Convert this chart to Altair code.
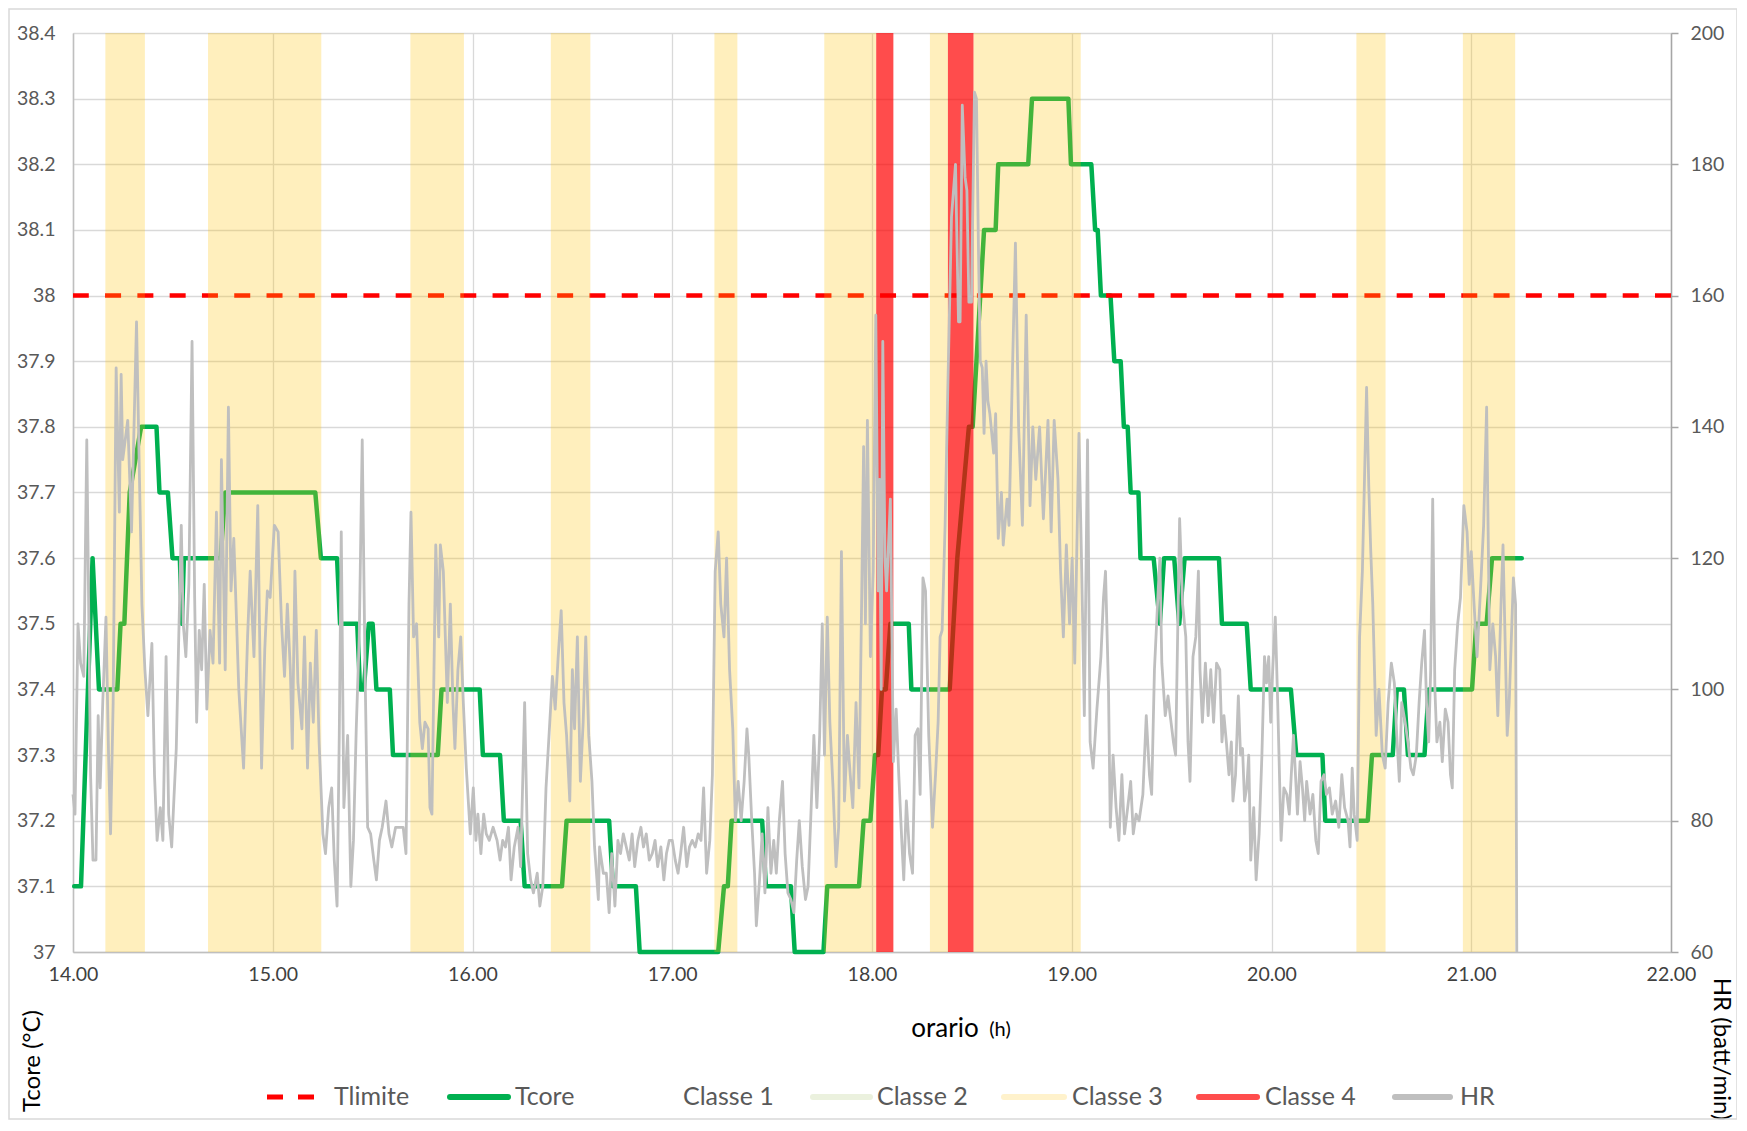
import altair as alt
import pandas as pd

# ---------------- data ----------------
tcore_h = [14.006, 14.040, 14.098, 14.130, 14.222, 14.238, 14.257, 14.284, 14.341, 14.418,
           14.433, 14.475, 14.498, 14.535, 14.545, 14.555, 14.739, 14.762, 15.213, 15.241,
           15.322, 15.337, 15.423, 15.437, 15.456, 15.481, 15.500, 15.519, 15.586, 15.602,
           15.826, 15.845, 16.036, 16.052, 16.138, 16.157, 16.241, 16.261, 16.448, 16.471,
           16.684, 16.703, 16.818, 16.837, 17.230, 17.259, 17.278, 17.297, 17.450, 17.469,
           17.594, 17.613, 17.757, 17.776, 17.935, 17.958, 17.992, 18.015, 18.031, 18.050,
           18.069, 18.092, 18.184, 18.197, 18.389, 18.427, 18.485, 18.504, 18.561, 18.619,
           18.632, 18.782, 18.801, 18.983, 18.996, 19.098, 19.117, 19.130, 19.146, 19.194,
           19.213, 19.245, 19.261, 19.280, 19.295, 19.334, 19.344, 19.410, 19.441, 19.462,
           19.513, 19.538, 19.565, 19.737, 19.752, 19.876, 19.896, 20.097, 20.124, 20.255,
           20.269, 20.482, 20.503, 20.607, 20.627, 20.663, 20.683, 20.766, 20.787, 21.004,
           21.025, 21.077, 21.104, 21.253]
tcore_v = [37.1, 37.1, 37.6, 37.4, 37.4, 37.5, 37.5, 37.7, 37.8, 37.8,
           37.7, 37.7, 37.6, 37.6, 37.5, 37.6, 37.6, 37.7, 37.7, 37.6,
           37.6, 37.5, 37.5, 37.4, 37.4, 37.5, 37.5, 37.4, 37.4, 37.3,
           37.3, 37.4, 37.4, 37.3, 37.3, 37.2, 37.2, 37.1, 37.1, 37.2,
           37.2, 37.1, 37.1, 37.0, 37.0, 37.1, 37.1, 37.2, 37.2, 37.1,
           37.1, 37.0, 37.0, 37.1, 37.1, 37.2, 37.2, 37.3, 37.3, 37.4,
           37.4, 37.5, 37.5, 37.4, 37.4, 37.6, 37.8, 37.8, 38.1, 38.1,
           38.2, 38.2, 38.3, 38.3, 38.2, 38.2, 38.1, 38.1, 38.0, 38.0,
           37.9, 37.9, 37.8, 37.8, 37.7, 37.7, 37.6, 37.6, 37.5, 37.6,
           37.6, 37.5, 37.6, 37.6, 37.5, 37.5, 37.4, 37.4, 37.3, 37.3,
           37.2, 37.2, 37.3, 37.3, 37.4, 37.4, 37.3, 37.3, 37.4, 37.4,
           37.5, 37.5, 37.6, 37.6]

hr_h = [14.000, 14.010, 14.025, 14.038, 14.054, 14.069, 14.088, 14.100, 14.115, 14.126,
        14.136, 14.149, 14.165, 14.178, 14.188, 14.201, 14.216, 14.232, 14.241, 14.249,
        14.274, 14.293, 14.318, 14.331, 14.345, 14.360, 14.375, 14.395, 14.408, 14.421,
        14.437, 14.450, 14.466, 14.479, 14.494, 14.517, 14.542, 14.552, 14.565, 14.580,
        14.596, 14.609, 14.619, 14.632, 14.644, 14.657, 14.670, 14.686, 14.701, 14.718,
        14.734, 14.743, 14.762, 14.778, 14.791, 14.805, 14.830, 14.854, 14.874, 14.887,
        14.906, 14.925, 14.944, 14.960, 14.973, 14.987, 15.008, 15.027, 15.044, 15.059,
        15.073, 15.088, 15.098, 15.111, 15.126, 15.146, 15.159, 15.174, 15.188, 15.203,
        15.218, 15.232, 15.251, 15.264, 15.280, 15.295, 15.308, 15.322, 15.333, 15.343,
        15.356, 15.375, 15.391, 15.404, 15.418, 15.433, 15.448, 15.462, 15.475, 15.490,
        15.506, 15.519, 15.534, 15.548, 15.567, 15.582, 15.596, 15.615, 15.634, 15.653,
        15.667, 15.682, 15.692, 15.705, 15.720, 15.736, 15.749, 15.762, 15.778, 15.787,
        15.797, 15.816, 15.831, 15.839, 15.854, 15.874, 15.889, 15.902, 15.912, 15.927,
        15.941, 15.954, 15.969, 15.989, 16.004, 16.017, 16.027, 16.042, 16.056, 16.069,
        16.084, 16.103, 16.123, 16.138, 16.151, 16.165, 16.180, 16.193, 16.209, 16.228,
        16.241, 16.261, 16.276, 16.291, 16.305, 16.324, 16.337, 16.352, 16.368, 16.385,
        16.400, 16.414, 16.429, 16.444, 16.458, 16.471, 16.487, 16.500, 16.511, 16.525,
        16.540, 16.554, 16.567, 16.582, 16.598, 16.611, 16.630,
        16.636, 16.655, 16.670, 16.684, 16.697, 16.713, 16.728, 16.741, 16.755, 16.770,
        16.785, 16.799, 16.812, 16.828, 16.843, 16.856, 16.870, 16.885, 16.900, 16.914,
        16.927, 16.943, 16.958, 16.971, 16.985, 17.000, 17.015, 17.029, 17.042, 17.057,
        17.073, 17.086, 17.100, 17.115, 17.130, 17.144, 17.157, 17.172, 17.188, 17.201,
        17.215, 17.230, 17.243, 17.259, 17.272, 17.287, 17.303, 17.316, 17.330, 17.345,
        17.360, 17.374, 17.383, 17.398, 17.412, 17.421, 17.437, 17.450, 17.464, 17.479,
        17.494, 17.508, 17.521, 17.536, 17.552, 17.565, 17.579, 17.594, 17.609, 17.623,
        17.636, 17.651, 17.667, 17.680, 17.693, 17.709, 17.724, 17.738, 17.751, 17.762,
        17.776, 17.789, 17.805, 17.820, 17.833, 17.847, 17.862, 17.877, 17.891, 17.904,
        17.920, 17.935, 17.948, 17.958, 17.967, 17.977, 17.992, 18.006, 18.019, 18.031,
        18.038, 18.046, 18.054, 18.065, 18.073, 18.092, 18.107, 18.121, 18.134, 18.149,
        18.159, 18.172, 18.188, 18.203, 18.216, 18.230, 18.241, 18.255, 18.268, 18.284,
        18.303, 18.318, 18.331, 18.341, 18.351, 18.366, 18.379, 18.398, 18.418, 18.433,
        18.441, 18.452, 18.466, 18.475, 18.485, 18.498, 18.513, 18.523, 18.533, 18.542,
        18.552, 18.561, 18.571, 18.580, 18.590, 18.609, 18.619, 18.632, 18.648, 18.657,
        18.676, 18.686, 18.705, 18.718, 18.734, 18.753, 18.772, 18.791, 18.805, 18.820,
        18.839, 18.858, 18.881, 18.897, 18.912, 18.931, 18.944, 18.958, 18.973, 18.989,
        19.002, 19.015, 19.036, 19.050, 19.063, 19.079, 19.092, 19.107, 19.126, 19.146,
        19.159, 19.169, 19.184, 19.193, 19.207, 19.222, 19.236, 19.251, 19.264, 19.280,
        19.295, 19.308, 19.322, 19.337, 19.356,
        19.373, 19.389, 19.400, 19.414, 19.431, 19.441, 19.451, 19.468, 19.482, 19.493,
        19.509, 19.520, 19.540, 19.555, 19.571, 19.582, 19.592, 19.607, 19.621, 19.634,
        19.642, 19.654, 19.669, 19.683, 19.696, 19.710, 19.725, 19.741, 19.752, 19.762,
        19.774, 19.787, 19.799, 19.807, 19.820, 19.834, 19.845, 19.855, 19.865, 19.876,
        19.886, 19.896, 19.911, 19.923, 19.938, 19.952, 19.965, 19.975, 19.986, 19.996,
        20.006, 20.019, 20.031, 20.048, 20.062, 20.077, 20.089, 20.099, 20.110, 20.120,
        20.130, 20.143, 20.155, 20.166, 20.176, 20.193, 20.207, 20.222, 20.234, 20.248,
        20.263, 20.275, 20.290, 20.304, 20.321, 20.337, 20.352, 20.366, 20.383, 20.393,
        20.404, 20.414, 20.429, 20.441, 20.455, 20.476, 20.487, 20.497, 20.507, 20.524,
        20.538, 20.555, 20.569, 20.584, 20.600, 20.615, 20.627, 20.640, 20.652, 20.669,
        20.683, 20.698, 20.710, 20.725, 20.739, 20.752, 20.766, 20.776, 20.787, 20.797,
        20.807, 20.818, 20.828, 20.843, 20.855, 20.870, 20.884, 20.896, 20.905, 20.917,
        20.932, 20.946, 20.963, 20.979, 20.990, 21.000, 21.014, 21.029, 21.046, 21.062,
        21.077, 21.093, 21.108, 21.122, 21.133, 21.149, 21.159, 21.180, 21.190, 21.201,
        21.211, 21.222, 21.228]
hr_v = [84, 81, 110, 104, 102, 138, 87, 74, 74, 96,
        85, 98, 111, 90, 78, 98, 149, 127, 148, 135,
        141, 124, 156, 135, 113, 103, 96, 107, 87, 77,
        82, 77, 105, 81, 76, 91, 125, 110, 105, 116,
        153, 114, 95, 109, 103, 116, 97, 109, 104, 127,
        104, 135, 103, 143, 115, 123, 100, 88, 108, 118,
        105, 128, 88, 106, 115, 114, 125, 124, 110, 102,
        113, 103, 91, 118, 101, 94, 108, 88, 104, 95,
        109, 92, 78, 75, 82, 85, 74, 67, 93, 124,
        82, 93, 70, 77, 94, 108, 138, 103, 79, 78,
        74, 71, 77, 79, 83, 78, 76, 79, 79, 79,
        75, 113, 127, 108, 110, 95, 91, 95, 94, 82,
        81, 122, 108, 122, 118, 98, 113, 98, 91, 103,
        108, 98, 88, 78, 85, 77, 81, 75, 81, 78,
        77, 79, 77, 74, 77, 76, 79, 71, 76, 79,
        73, 98, 75, 71, 69, 72, 67, 70, 85, 94,
        102, 97, 105, 112, 98, 93, 83, 103, 94, 108,
        86, 95, 108, 93, 86, 76, 68,
        76, 72, 72, 66, 75, 67, 77, 75, 78, 76,
        74, 78, 73, 77, 79, 76, 78, 74, 75, 77,
        73, 76, 71, 75, 77, 77, 74, 72, 75, 79,
        73, 76, 77, 76, 78, 77, 85, 72, 77, 87,
        118, 124, 113, 108, 120, 103, 94, 80, 86, 80,
        86, 94, 90, 80, 72, 64, 71, 78, 69, 82,
        72, 77, 72, 80, 86, 75, 69, 68, 66, 74,
        80, 73, 68, 70, 80, 93, 82, 93, 110, 90,
        111, 95, 85, 73, 79, 121, 83, 93, 87, 82,
        98, 85, 113, 137, 110, 141, 105, 118, 157, 115,
        132, 100, 153, 120, 115, 129, 89, 97, 87, 77,
        71, 83, 75, 72, 93, 94, 84, 117, 115, 93,
        79, 87, 95, 108, 109, 125, 145, 172, 180, 156,
        156, 189, 178, 176, 159, 159, 191, 190, 167, 150,
        149, 139, 150, 144, 142, 136, 142, 123, 130, 122,
        129, 125, 151, 168, 140, 125, 157, 128, 140, 132,
        140, 126, 141, 124, 141, 132, 118, 108, 122, 110,
        120, 104, 139, 118, 96, 138, 92, 88, 97, 105,
        114, 118, 100, 79, 90, 82, 77, 87, 78, 82,
        86, 78, 81, 80, 84,
        96, 87, 84, 103, 114, 120, 104, 96, 99, 96,
        92, 90, 126, 113, 108, 92, 86, 105, 108, 118,
        103, 95, 104, 96, 103, 95, 104, 103, 92, 96,
        92, 87, 92, 83, 87, 99, 90, 91, 83, 85,
        90, 74, 82, 71, 78, 90, 105, 101, 105, 95,
        103, 111, 98, 77, 85, 84, 81, 87, 93, 87,
        81, 89, 85, 80, 86, 81, 84, 77, 75, 86,
        87, 84, 85, 81, 83, 79, 87, 82, 80, 76,
        88, 81, 77, 108, 118, 146, 131, 121, 113, 93,
        100, 90, 88, 98, 104, 101, 93, 86, 98, 95,
        92, 88, 87, 90, 98, 104, 109, 98, 92, 103,
        129, 100, 92, 95, 89, 97, 95, 87, 85, 103,
        110, 114, 128, 124, 116, 121, 113, 105, 115, 125,
        143, 103, 110, 105, 96, 113, 122, 93, 98, 108,
        117, 113, 60]

classe3_start = [14.162, 14.676, 15.689, 16.392, 17.211, 17.761, 18.290, 18.508, 20.425, 20.958]
classe3_end = [14.360, 15.243, 15.957, 16.590, 17.326, 18.021, 18.380, 19.045, 20.571, 21.220]
classe4_start = [18.021, 18.380]
classe4_end = [18.107, 18.508]
tlimite = [38.0]

x_ticks = [14, 15, 16, 17, 18, 19, 20, 21, 22]
y_left_ticks = [37.0, 37.1, 37.2, 37.3, 37.4, 37.5, 37.6, 37.7, 37.8, 37.9, 38.0, 38.1, 38.2, 38.3, 38.4]
y_right_ticks = [60, 80, 100, 120, 140, 160, 180, 200]

legend_names = ["Tlimite", "Tcore", "Classe 1", "Classe 2", "Classe 3", "Classe 4", "HR"]
legend_colors = ["#FF0000", "#00B050", "#FFFFFF", "#EBF1DE", "#FFF2CC", "#FF4D4D", "#BFBFBF"]

# ---------------- layout ----------------
W, H = 1598, 919
FONT = "Lato"
GRID = "#D9D9D9"

tcore_df = pd.DataFrame({"h": tcore_h, "v": tcore_v})
hr_df = pd.DataFrame({"h": hr_h, "hr": hr_v})
c3_df = pd.DataFrame({"s": classe3_start, "e": classe3_end})
c4_df = pd.DataFrame({"s": classe4_start, "e": classe4_end})
tl_df = pd.DataFrame({"v": tlimite})
dummy = pd.DataFrame({"k": [0]})

x_scale = alt.Scale(domain=[14, 22], nice=False, zero=False)
x_axis = alt.Axis(values=x_ticks, format=".2f", title=None, grid=True, gridColor=GRID,
                  gridWidth=1.3, domainColor="#BFBFBF", domainWidth=1.5, ticks=False,
                  tickSize=0, labelPadding=13, labelFontSize=19.5, labelColor="#404040",
                  labelFont=FONT, labelFlush=False)


def xenc(field):
    return alt.X(field, type="quantitative", scale=x_scale, axis=x_axis)


y_left = alt.Y("v:Q", scale=alt.Scale(domain=[37, 38.4], nice=False, zero=False),
               axis=alt.Axis(values=y_left_ticks, format="~g", orient="left", title=None,
                             grid=True, gridColor=GRID, gridWidth=1.3, domainColor="#BFBFBF",
                             domainWidth=1.5, ticks=False, tickSize=0, labelPadding=18,
                             labelFontSize=19.5, labelColor="#595959", labelFont=FONT,
                             labelFlush=False))

y_right = alt.Y("hr:Q", scale=alt.Scale(domain=[60, 200], nice=False, zero=False),
                axis=alt.Axis(values=y_right_ticks, orient="right", title=None, grid=False,
                              domainColor="#A6A6A6", domainWidth=1.5, ticks=True,
                              tickColor="#A6A6A6", tickSize=7, tickWidth=1.5, labelPadding=12,
                              labelFontSize=19.5, labelColor="#595959", labelFont=FONT,
                              labelFlush=False))

tcore = alt.Chart(tcore_df).mark_line(color="#00B050", strokeWidth=4.5, strokeJoin="round",
                                      strokeCap="round").encode(x=xenc("h"), y=y_left)
# dash + gap chosen so that both ends of the limit line finish on a dash
tlim = alt.Chart(tl_df).mark_rule(color="#FF0000", strokeWidth=4.5,
                                  strokeDash=[16, 16.29]).encode(y=y_left)
left_group = alt.layer(tcore, tlim)

band3 = alt.Chart(c3_df).mark_rect(color="#FFC000", opacity=0.26).encode(
    x=xenc("s"), x2="e", y=alt.value(0), y2=alt.value(H))
band4 = alt.Chart(c4_df).mark_rect(color="#FF0000", opacity=0.7).encode(
    x=xenc("s"), x2="e", y=alt.value(0), y2=alt.value(H))

hr = alt.Chart(hr_df).mark_line(color="#BFBFBF", strokeWidth=2.8, strokeJoin="round").encode(
    x=xenc("h"), y=y_right)

extra = []


def text_layer(s, x, y, size, color, align="left", angle=0):
    props = dict(text=s, font=FONT, fontSize=size, color=color, align=align, baseline="middle")
    if angle:
        props["angle"] = angle
    return alt.Chart(dummy).mark_text(**props).encode(x=alt.value(x), y=alt.value(y))


# axis titles
extra.append(text_layer("orario", 872, 996, 26, "#000000", align="center"))
extra.append(text_layer("(h)", 927, 997, 20, "#000000", align="center"))
extra.append(text_layer("Tcore (°C)", -40, 1028, 24, "#000000", align="center", angle=270))
extra.append(text_layer("HR (batt/min)", 1648, 1016, 24, "#000000", align="center", angle=90))

# legend
LY = 1064
leg_line_x = [(194, 241), (377, 435), (540, 598), (740, 797), (931, 991), (1126, 1184), (1322, 1377)]
leg_text_x = [261, 442, 610, 804, 999, 1192, 1387]
for i, name in enumerate(legend_names):
    x1, x2 = leg_line_x[i]
    if name == "Tlimite":
        extra.append(alt.Chart(dummy).mark_rule(color=legend_colors[i], strokeWidth=5,
                                                strokeDash=[16, 15]).encode(
            x=alt.value(x1), x2=alt.value(x2), y=alt.value(LY)))
    elif name != "Classe 1":
        extra.append(alt.Chart(dummy).mark_rule(color=legend_colors[i], strokeWidth=6,
                                                strokeCap="round").encode(
            x=alt.value(x1), x2=alt.value(x2), y=alt.value(LY)))
    extra.append(text_layer(name, leg_text_x[i], LY, 25, "#595959"))

# chart-area border
extra.append(alt.Chart(dummy).mark_rect(filled=False, stroke="#D9D9D9", strokeWidth=1.5).encode(
    x=alt.value(-64), x2=alt.value(1664), y=alt.value(-24), y2=alt.value(1086)))

chart = alt.layer(left_group, band3, band4, hr, *extra).resolve_scale(y="independent").properties(
    width=W, height=H,
    autosize=alt.AutoSizeParams(type="none"),
    padding={"left": 65, "top": 25, "right": 66, "bottom": 168},
).configure_view(strokeWidth=0).configure(font=FONT)

chart.save("out.html", embed_options={"renderer": "svg", "actions": False})
